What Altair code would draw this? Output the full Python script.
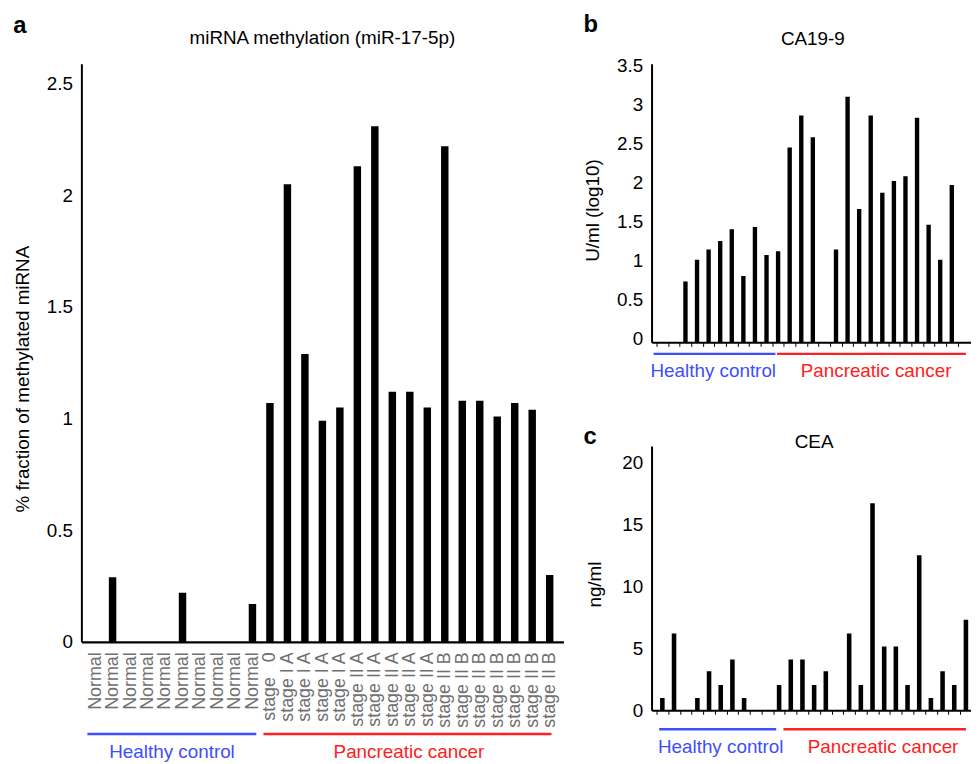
import json
import altair as alt
import pandas as pd

FONT = "Liberation Sans"

# ---------------- data ----------------
sample_index = list(range(27))
mirna_labels = (["Normal"] * 10 + ["stage\u00a0\u00a0\u00a00"] + ["stage I A"] * 4
                + ["stage II A"] * 5 + ["stage II B"] * 7)
mirna_values = [0, 0.29, 0, 0, 0, 0.22, 0, 0, 0, 0.17,
                1.07, 2.05, 1.29, 0.99, 1.05, 2.13, 2.31, 1.12, 1.12, 1.05,
                2.22, 1.08, 1.08, 1.01, 1.07, 1.04, 0.30]
ca199_values = [0, 0, 0.78, 1.06, 1.19, 1.30, 1.45, 0.85, 1.48, 1.12,
                1.17, 2.50, 2.91, 2.63, 0, 1.19, 3.15, 1.71, 2.91, 1.92,
                2.07, 2.13, 2.88, 1.51, 1.06, 2.02, 0]
cea_values = [1, 6.2, 0, 1, 3.15, 2.05, 4.1, 1, 0, 0,
              2.05, 4.1, 4.1, 2.05, 3.15, 0, 6.2, 2.05, 16.7, 5.15,
              5.15, 2.05, 12.5, 1, 3.15, 2.05, 7.3]
group_names = ["Healthy control", "Pancreatic cancer"]
group_first = [0, 10]
group_last = [9, 26]
group_colors = ["#3d4dff", "#ff2020"]
mirna_ticks = [0, 0.5, 1, 1.5, 2, 2.5]
ca199_ticks = [0, 0.5, 1, 1.5, 2, 2.5, 3, 3.5]
cea_ticks = [0, 5, 10, 15, 20]

TXT = 19


def make_panel(values, title, letter, ytitle, yticks, ydomain, xdomain, width, height,
               bar_size, xaxis, ytitle_x, ytitle_y, ylabel_offset, title_dy,
               letter_dx, letter_dy, geom, line_y, text_y, anchor=None):
    df = pd.DataFrame({"idx": sample_index, "value": values})
    xs = alt.Scale(domain=xdomain, nice=False, zero=False)
    ys = alt.Scale(domain=ydomain, nice=False, zero=True)
    yaxis = alt.Axis(values=yticks, format="~g", ticks=False, tickSize=0, labelPadding=9,
                     labelFont=FONT, labelFontSize=TXT, labelColor="black",
                     labelOffset=ylabel_offset,
                     domainColor="black", domainWidth=2, grid=False,
                     title=ytitle, titleFont=FONT, titleFontSize=TXT,
                     titleFontWeight="normal", titleColor="black", titleAngle=270,
                     titleX=ytitle_x, titleY=ytitle_y, titleAlign="center",
                     titleBaseline="middle")
    bars = alt.Chart(df).mark_bar(color="black", size=bar_size, clip=True).encode(
        x=alt.X("idx:Q", scale=xs, axis=xaxis),
        y=alt.Y("value:Q", scale=ys, axis=yaxis),
    )
    gdf = pd.DataFrame({"name": group_names, "first": group_first,
                        "last": group_last, "color": group_colors})
    gdf["x0"] = [f - g[0] for f, g in zip(group_first, geom)]
    gdf["x1"] = [l + g[1] for l, g in zip(group_last, geom)]
    gdf["xt"] = [g[2] for g in geom]
    rules = alt.Chart(gdf).mark_rule(strokeWidth=2.5).encode(
        x=alt.X("x0:Q", scale=xs, axis=xaxis),
        x2="x1:Q",
        y=alt.value(line_y),
        color=alt.Color("color:N", scale=None),
    )
    gtext = alt.Chart(gdf).mark_text(font=FONT, fontSize=TXT, align="center",
                                     baseline="alphabetic").encode(
        x=alt.X("xt:Q", scale=xs, axis=xaxis),
        y=alt.value(text_y),
        text="name:N",
        color=alt.Color("color:N", scale=None),
    )
    tdf = pd.DataFrame({"t": [title], "l": [letter], "mid": [13]})
    ttl = alt.Chart(tdf).mark_text(font=FONT, fontSize=TXT, align="center",
                                   baseline="alphabetic", color="black").encode(
        x=alt.X("mid:Q", scale=xs, axis=xaxis),
        y=alt.value(title_dy),
        text="t:N",
    )
    let = alt.Chart(tdf).mark_text(font=FONT, fontSize=24, fontWeight="bold",
                                   align="left", baseline="alphabetic",
                                   color="black").encode(
        x=alt.value(letter_dx),
        y=alt.value(letter_dy),
        text="l:N",
    )
    layers = [bars, rules, gtext, ttl, let]
    if anchor is not None:
        # invisible corner marker fixing the page origin of the layout
        layers.append(alt.Chart(tdf).mark_rule(opacity=0, strokeWidth=1).encode(
            x=alt.value(anchor[0] + 0.5), y=alt.value(anchor[1] + 0.5),
            y2=alt.value(anchor[1] + 1.5)))
    return alt.layer(*layers).properties(width=width, height=height)


label_expr = "[" + ",".join(json.dumps(s, ensure_ascii=False) for s in mirna_labels) + "][datum.value]"

axis_a = alt.Axis(values=sample_index, labelExpr=label_expr, labelAngle=270,
                  labelAlign="right", labelBaseline="middle", labelFont=FONT,
                  labelFontSize=18, labelColor="#6f6f6f", labelPadding=10,
                  labelOverlap=False, labelFlush=False, ticks=False, tickSize=0,
                  domainColor="black", domainWidth=2.5, grid=False, title=None)


def tick_axis(xmax):
    return alt.Axis(values=[k + 0.5 for k in range(-1, 27) if k + 0.5 <= xmax],
                    labels=False, ticks=True, tickSize=4, tickWidth=1,
                    tickColor="black", domainColor="black", domainWidth=2,
                    grid=False, title=None)


W_RIGHT = 322
b_max = -0.5 + W_RIGHT / 12.05
c_max = -0.5 + W_RIGHT / 12.15

panel_a = make_panel(mirna_values, "miRNA methylation (miR-17-5p)", "a",
                     "% fraction of methylated miRNA", mirna_ticks, [0, 2.59],
                     [-0.5, 26.5], 486, 583, 7.5, axis_a, -59.7, 317.6, 0,
                     -20, -68.7, -31.4,
                     [(0.44, 0.22, 4.4), (0.37, 0.1, 17.95)], 676, 699.6,
                     anchor=(-73.7, -53.4))

panel_b = make_panel(ca199_values, "CA19-9", "b", "U/ml (log10)", ca199_ticks,
                     [0, 3.575], [-0.5, b_max], W_RIGHT, 281, 4.4, tick_axis(b_max),
                     -59.6, 147.6, -4, -18.4, -68.6, -32.4,
                     [(0.75, 0.77, 4.4), (0.1, b_max - 26, 18.46)], 292.6, 316.3)

panel_c = make_panel(cea_values, "CEA", "c", "ng/ml", cea_ticks,
                     [0, 21.33], [-0.5, c_max], W_RIGHT, 266.6, 4.6, tick_axis(c_max),
                     -57.6, 139.3, 0, 2.3, -68.6, -1.7,
                     [(0.27, 0.75, 5.0), (-0.37, c_max - 26, 18.9)], 285.6, 309.6)

right = alt.vconcat(panel_b, panel_c, spacing=104.4, bounds="flush")
chart = alt.hconcat(panel_a, right, spacing=88.9, bounds="flush").properties(
    padding={"left": 0, "top": 0, "right": 0, "bottom": 0},
    background="white",
).configure_view(stroke=None)

chart.save("out.html", embed_options={"renderer": "svg", "actions": False})
